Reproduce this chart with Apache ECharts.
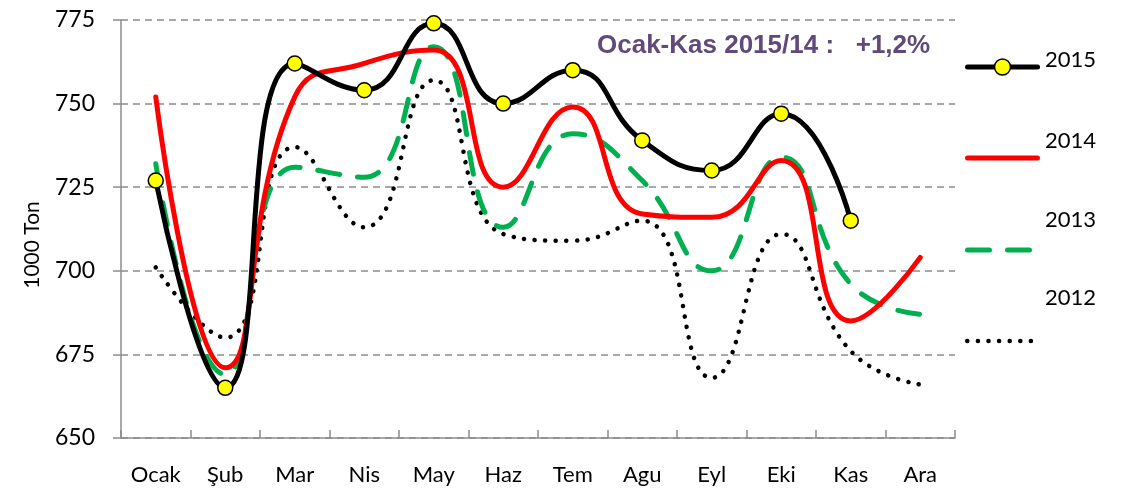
<!DOCTYPE html>
<html>
<head>
<meta charset="utf-8">
<script src="https://cdn.jsdelivr.net/npm/echarts@6/dist/echarts.min.js"></script>
<style>
  html, body { margin: 0; padding: 0; background: #fff; }
  #chart { width: 1128px; height: 494px; }
</style>
</head>
<body>
<div id="chart"></div>
<script>
const months = ["Ocak", "Şub", "Mar", "Nis", "May", "Haz", "Tem", "Agu", "Eyl", "Eki", "Kas", "Ara"];
const y2015 = [727, 665, 762, 754, 774, 750, 760, 739, 730, 747, 715, null];
const y2014 = [752, 671, 752, 762, 766, 725, 749, 717, 716, 733, 685, 704];
const y2013 = [732, 669, 731, 728, 767, 713, 741, 727, 700, 734, 696, 687];
const y2012 = [701, 680, 737, 713, 757, 711, 709, 715, 668, 711, 676, 666];
const yTicks = [650, 675, 700, 725, 750, 775];
const years = ["2015", "2014", "2013", "2012"];

const font = "Lato, 'Open Sans', sans-serif";
const chart = echarts.init(document.getElementById("chart"));

// legend rows: line y position, label y position
const legendLineY = [62, 153, 245, 336];
const legendTextY = [62, 143, 222, 300];

const legends = years.map((name, i) => ({
  orient: "vertical",
  left: 960,
  top: legendLineY[i] - 10,
  itemWidth: 70,
  itemHeight: 20,
  data: [name],
  formatter: () => "",
  itemStyle: i === 0 ? { borderWidth: 1.5, borderColor: "#000" } : { opacity: 0 },
  lineStyle: { width: i === 3 ? 4.5 : 5 },
  textStyle: { fontSize: 1 },
}));

chart.setOption({
  animation: false,
  legend: legends,
  graphic: [
    {
      type: "text",
      left: 597,
      top: 33,
      style: {
        text: "Ocak-Kas 2015/14 :   +1,2%",
        fontFamily: "'Liberation Sans', Arial, sans-serif",
        fontWeight: "bold",
        fontSize: 26,
        fill: "#604a7b",
      },
    },
    {
      type: "text",
      x: 32,
      y: 245,
      rotation: Math.PI / 2,
      style: {
        text: "1000 Ton",
        fontFamily: font,
        fontSize: 21,
        fill: "#000",
        align: "center",
        verticalAlign: "middle",
      },
    },
    ...years.map((name, i) => ({
      type: "text",
      left: 1045,
      top: legendTextY[i] - 13,
      style: { text: name, fontFamily: font, fontSize: 22, fill: "#000" },
    })),
  ],
  grid: { left: 121, right: 173, top: 20, bottom: 56 },
  xAxis: {
    type: "category",
    data: months,
    boundaryGap: true,
    axisLine: { lineStyle: { color: "#8c8c8c", width: 1.5 } },
    axisTick: { show: true, length: 8, inside: true, lineStyle: { color: "#8c8c8c", width: 1.5 } },
    axisLabel: { fontFamily: font, fontSize: 22, color: "#000", margin: 26 },
  },
  yAxis: {
    type: "value",
    min: 650,
    max: 775,
    interval: 25,
    axisLine: { show: true, lineStyle: { color: "#8c8c8c", width: 1.5 } },
    axisTick: { show: true, length: 8, lineStyle: { color: "#8c8c8c", width: 1.5 } },
    axisLabel: {
      fontFamily: font,
      fontSize: 23,
      color: "#000",
      margin: 26,
      formatter: (v) => (yTicks.includes(v) ? String(v) : ""),
    },
    splitLine: { show: true, lineStyle: { color: "#8c8c8c", type: [7, 5], width: 1.5 } },
  },
  series: [
    {
      name: "2012",
      type: "line",
      data: y2012,
      smooth: 0.5,
      showSymbol: false,
      symbol: "none",
      itemStyle: { color: "#000" },
      lineStyle: { color: "#000", width: 4.5, type: [0.1, 10.5], cap: "round" },
      z: 1,
    },
    {
      name: "2013",
      type: "line",
      data: y2013,
      smooth: 0.5,
      showSymbol: false,
      symbol: "none",
      itemStyle: { color: "#00b050" },
      lineStyle: { color: "#00b050", width: 5, type: [22, 18], cap: "round" },
      z: 2,
    },
    {
      name: "2014",
      type: "line",
      data: y2014,
      smooth: 0.5,
      showSymbol: false,
      symbol: "none",
      itemStyle: { color: "#ff0000" },
      lineStyle: { color: "#ff0000", width: 5, cap: "round" },
      z: 3,
    },
    {
      name: "2015",
      type: "line",
      data: y2015,
      smooth: 0.5,
      symbol: "circle",
      symbolSize: 15,
      itemStyle: { color: "#ffff00", borderColor: "#000", borderWidth: 1.5 },
      lineStyle: { color: "#000", width: 5, cap: "round" },
      z: 4,
    },
  ],
});
</script>
</body>
</html>
